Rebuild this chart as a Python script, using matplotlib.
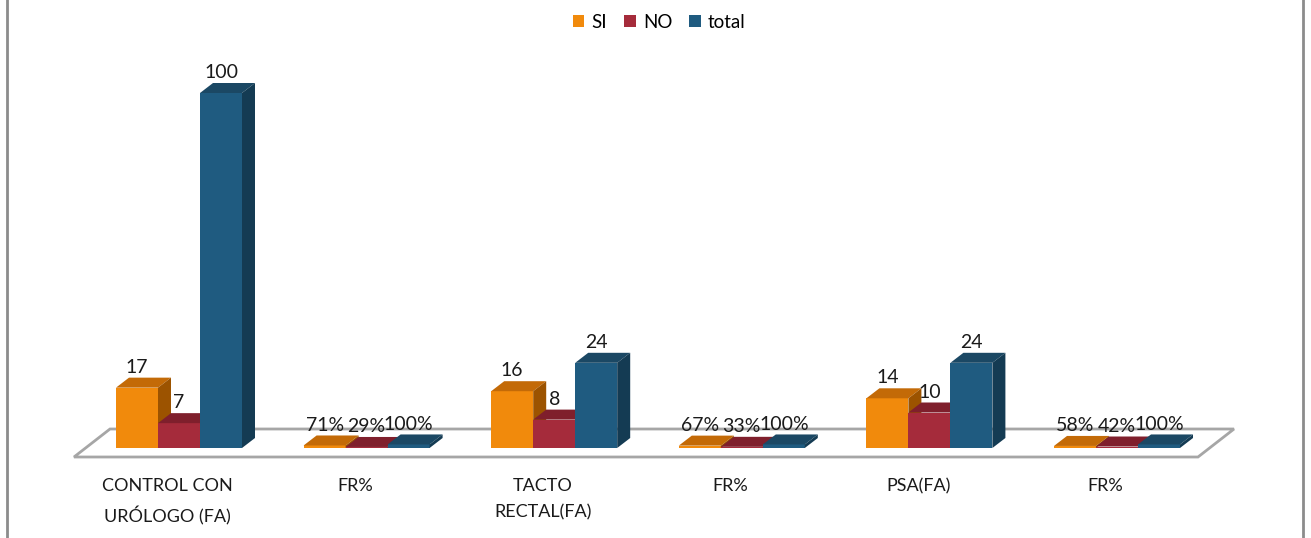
import matplotlib.pyplot as plt
from matplotlib.patches import Polygon, Rectangle, Patch

plt.rcParams['font.family'] = ['Lato', 'DejaVu Sans']

categories = ['CONTROL CON\nURÓLOGO (FA)', 'FR%', 'TACTO\nRECTAL(FA)', 'FR%', 'PSA(FA)', 'FR%']
si = [17, 0.71, 16, 0.67, 14, 0.58]
no = [7, 0.29, 8, 0.33, 10, 0.42]
total = [100, 1, 24, 1, 24, 1]
si_labels = ['17', '71%', '16', '67%', '14', '58%']
no_labels = ['7', '29%', '8', '33%', '10', '42%']
total_labels = ['100', '100%', '24', '100%', '24', '100%']

series = [
    ('SI', si, si_labels, ['#F18A0C', '#C36A07', '#9C5300']),
    ('NO', no, no_labels, ['#A52B3B', '#7F1F2C', '#6A1824']),
    ('total', total, total_labels, ['#1F5B80', '#1B4864', '#143B53']),
]

W, H = 1311, 538
fig = plt.figure(figsize=(W / 100, H / 100), dpi=100)
ax = fig.add_axes([0, 0, 1, 1])

# pixel mapping: category i centre at 179 + 187.6*i, value 0 at y=448, 3.55 px per unit
sx = 187.6
sy = 3.55
ax.set_xlim(-179 / sx, (W - 179) / sx)
ax.set_ylim(-(H - 448) / sy, 448 / sy)
ax.axis('off')

bw = 42 / sx
dx = 13 / sx
dy = 10 / sy

# floor
n = len(categories)
fl = (74 - 179) / sx
fr = (1198 - 179) / sx
fdx = 36 / sx
fdy = 28 / sy
front_y = -9 / sy
floor = Polygon([(fl, front_y), (fr, front_y), (fr + fdx, front_y + fdy), (fl + fdx, front_y + fdy)],
                closed=True, facecolor='white', edgecolor='#a6a6a6', lw=2, zorder=1)
ax.add_patch(floor)

z = 2
for i in range(n):
    for k, (name, vals, labs, cols) in enumerate(series):
        x0 = i + (k - 1.5) * bw
        v = vals[i]
        ax.add_patch(Rectangle((x0, 0), bw, v, facecolor=cols[0], edgecolor='none', zorder=z))
        ax.add_patch(Polygon([(x0, v), (x0 + bw, v), (x0 + bw + dx, v + dy), (x0 + dx, v + dy)],
                             closed=True, facecolor=cols[1], edgecolor='none', zorder=z))
        ax.add_patch(Polygon([(x0 + bw, 0), (x0 + bw + dx, dy), (x0 + bw + dx, v + dy), (x0 + bw, v)],
                             closed=True, facecolor=cols[2], edgecolor='none', zorder=z))
        z += 1
        ax.annotate(labs[i], (x0 + bw / 2, v), xytext=(0, 8.5), textcoords='offset points',
                    ha='center', va='bottom', fontsize=14, color='#1a1a1a', zorder=50)

for i, c in enumerate(categories):
    ax.text(i - 0.06, -30 / sy, c, ha='center', va='top', fontsize=13, color='#1a1a1a',
            linespacing=1.75)

handles = [Patch(facecolor=s[3][0]) for s in series]
fig.legend(handles, [s[0] for s in series], loc='center', bbox_to_anchor=(0.503, 0.959),
           ncol=3, frameon=False, fontsize=13.5, handlelength=0.6, handleheight=0.6,
           handletextpad=0.4, columnspacing=0.9)

# side borders
ax.plot([7 / W, 7 / W], [0, 1], color='#8c8c8c', lw=2, transform=ax.transAxes)
ax.plot([1303 / W, 1303 / W], [0, 1], color='#8c8c8c', lw=2, transform=ax.transAxes)

fig.savefig('out.png', dpi=100)
